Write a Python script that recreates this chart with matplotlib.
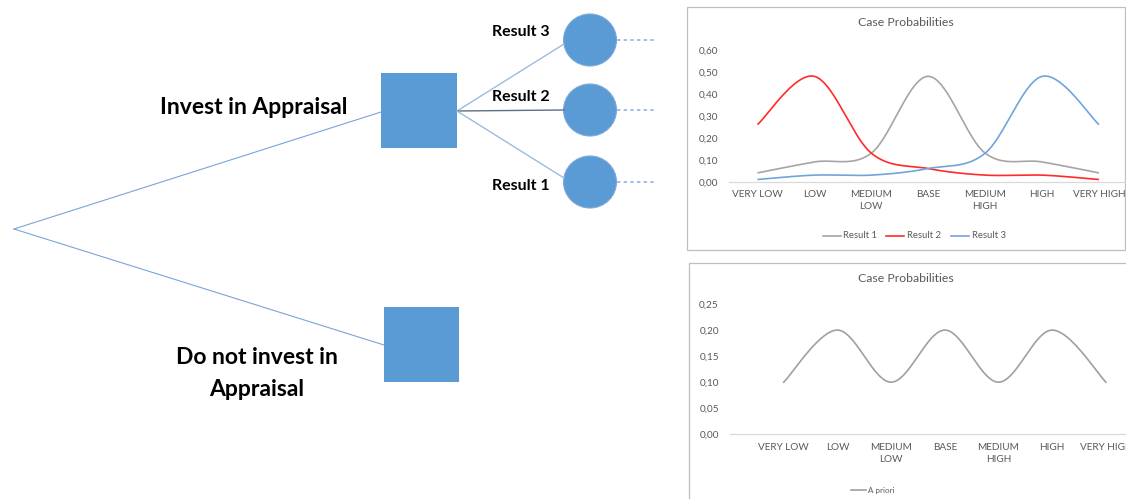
import numpy as np
import matplotlib
matplotlib.use("Agg")
import matplotlib.pyplot as plt
from matplotlib.patches import Rectangle, Ellipse

plt.rcParams['font.family'] = ['Lato', 'DejaVu Sans']

# ---- chart data ----
categories = ["VERY LOW", "LOW", "MEDIUM\nLOW", "BASE", "MEDIUM\nHIGH", "HIGH", "VERY HIGH"]
result_1 = [0.04, 0.09, 0.13, 0.48, 0.13, 0.09, 0.04]
result_2 = [0.26, 0.48, 0.13, 0.06, 0.03, 0.03, 0.01]
result_3 = [0.01, 0.03, 0.03, 0.06, 0.13, 0.48, 0.26]
a_priori = [0.10, 0.20, 0.10, 0.20, 0.10, 0.20, 0.10]
ticks_top = [0.0, 0.1, 0.2, 0.3, 0.4, 0.5, 0.6]
ticks_bottom = [0.0, 0.05, 0.10, 0.15, 0.20, 0.25]

W, H = 1126, 499
fig = plt.figure(figsize=(W / 100, H / 100), dpi=100)
fig.patch.set_facecolor("white")


def smooth(values, n=40):
    """Excel-style smoothed line: cubic Bezier segments with Catmull-Rom control points."""
    pts = np.column_stack([np.arange(len(values), dtype=float), np.asarray(values, float)])
    last = len(pts) - 1
    t = np.linspace(0, 1, n)[:, None]
    segs = []
    for i in range(last):
        p0 = pts[max(i - 1, 0)]
        p1 = pts[i]
        p2 = pts[i + 1]
        p3 = pts[min(i + 2, last)]
        c1 = p1 + (p2 - p0) / 6.0
        c2 = p2 - (p3 - p1) / 6.0
        b = ((1 - t) ** 3) * p1 + 3 * ((1 - t) ** 2) * t * c1 + 3 * (1 - t) * t ** 2 * c2 + t ** 3 * p2
        segs.append(b if i == 0 else b[1:])
    curve = np.vstack(segs)
    return curve[:, 0], curve[:, 1]


def px_axes(left, right, top, bottom):
    return fig.add_axes([left / W, 1 - bottom / H, (right - left) / W, (bottom - top) / H])


# ---- decision tree (pixel canvas) ----
tree = fig.add_axes([0, 0, 1, 1])
tree.set_xlim(0, W)
tree.set_ylim(H, 0)
tree.axis("off")

box_blue = "#5B9BD5"
tree.plot([14, 381], [229, 112], color="#7AA5D6", lw=0.8)
tree.plot([14, 384], [229, 345], color="#7AA5D6", lw=0.8)
tree.add_patch(Rectangle((381, 73), 76, 75, facecolor=box_blue, edgecolor="none"))
tree.add_patch(Rectangle((384, 307), 75, 75, facecolor=box_blue, edgecolor="none"))

circle_y = [40, 110, 182]
ends = [(564, 44), (564, 110), (564, 178)]
tree.plot([457, ends[0][0]], [111, ends[0][1]], color="#9BBBE0", lw=1.0)
tree.plot([457, ends[1][0]], [111, ends[1][1]], color="#5F6F86", lw=1.0)
tree.plot([457, ends[2][0]], [111, ends[2][1]], color="#9BBBE0", lw=1.0)
for cy in circle_y:
    tree.add_patch(Ellipse((590, cy), 53, 52, facecolor=box_blue, edgecolor="#7FA9DA", lw=0.8))
    tree.plot([617, 656], [cy, cy], color="#8FB2DE", lw=1.2, ls=(0, (2, 2)))

tree.text(550, 32, "Result 3", ha="right", va="center", fontsize=11.5, fontweight="bold", color="black")
tree.text(550, 97, "Result 2", ha="right", va="center", fontsize=11.5, fontweight="bold", color="black")
tree.text(550, 186, "Result 1", ha="right", va="center", fontsize=11.5, fontweight="bold", color="black")
tree.text(254, 107, "Invest in Appraisal", ha="center", va="center", fontsize=16.5, fontweight="bold", color="black")
tree.text(257, 358, "Do not invest in", ha="center", va="center", fontsize=16.5, fontweight="bold", color="black")
tree.text(257, 390, "Appraisal", ha="center", va="center", fontsize=16.5, fontweight="bold", color="black")

# chart frames
tree.add_patch(Rectangle((686.5, 6.5), 438, 243, facecolor="none", edgecolor="#BFBFBF", lw=0.9))
tree.add_patch(Rectangle((688.5, 262.5), 450, 250, facecolor="none", edgecolor="#BFBFBF", lw=0.9))

text_gray = "#595959"


def style_axes(ax, ticks, fmt):
    ax.set_facecolor("none")
    for side in ("top", "right", "left"):
        ax.spines[side].set_visible(False)
    ax.spines["bottom"].set_color("#D9D9D9")
    ax.spines["bottom"].set_linewidth(0.9)
    ax.set_yticks(ticks)
    ax.set_yticklabels([fmt.format(v).replace(".", ",") for v in ticks])
    ax.set_xticks(range(len(categories)))
    ax.set_xticklabels(categories, linespacing=1.45)
    ax.tick_params(axis="both", length=0, colors=text_gray, labelsize=7.2)
    ax.tick_params(axis="y", pad=8)
    ax.tick_params(axis="x", pad=6)


# ---- top chart: probabilities by survey result ----
ax1 = px_axes(729, 1127.5, 50, 181.7)
for vals, col in ((result_1, "#A5A5A5"), (result_2, "#FF2A2A"), (result_3, "#6FA5DB")):
    xs, ys = smooth(vals)
    ax1.plot(xs, ys, color=col, lw=1.2, solid_capstyle="butt")
ax1.set_xlim(-0.5, 6.5)
ax1.set_ylim(0, 0.6)
style_axes(ax1, ticks_top, "{:.2f}")
fig.text(906 / W, 1 - 23 / H, "Case Probabilities", ha="center", va="center", fontsize=8.8, color=text_gray)

legend_items = [(823, 841, 843, "Result 1", "#A5A5A5"),
                (886, 904, 907, "Result 2", "#FF2A2A"),
                (951, 969, 972, "Result 3", "#6FA5DB")]
for x0, x1, xt, label, col in legend_items:
    tree.plot([x0, x1], [236, 236], color=col, lw=1.2)
    tree.text(xt, 236, label, ha="left", va="center", fontsize=6.8, color=text_gray)

# ---- bottom chart: prior probabilities ----
ax2 = px_axes(730, 1132.8, 304, 434.3)
xs, ys = smooth(a_priori)
ax2.plot(xs, ys, color="#A0A0A0", lw=1.2)
ax2.set_xlim(-1.0, 6.5)
ax2.set_ylim(0, 0.25)
style_axes(ax2, ticks_bottom, "{:.2f}")
fig.text(906 / W, 1 - 279 / H, "Case Probabilities", ha="center", va="center", fontsize=8.8, color=text_gray)
tree.plot([851, 866], [490, 490], color="#A0A0A0", lw=1.2)
tree.text(868, 490, "A priori", ha="left", va="center", fontsize=5.8, color=text_gray)

fig.savefig("out.png", dpi=100, facecolor="white")
